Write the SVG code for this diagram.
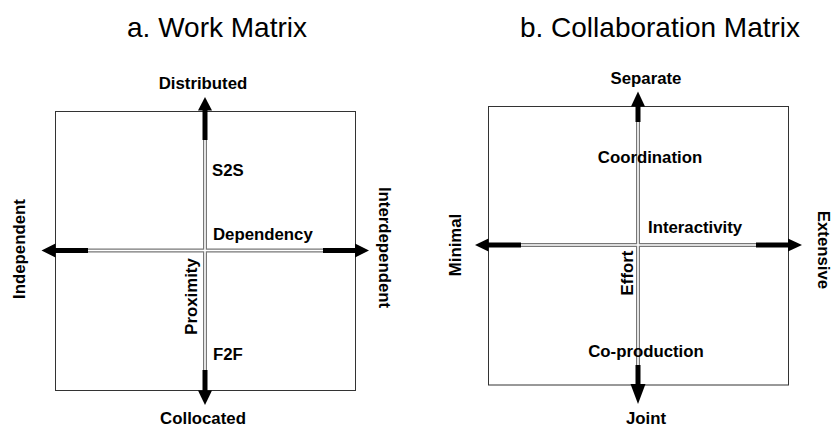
<svg xmlns="http://www.w3.org/2000/svg" width="835" height="427" viewBox="0 0 835 427">
<style>
.title{font-family:"Liberation Sans",Arial,sans-serif;font-size:28px;fill:#000}
.lbl{font-family:"Liberation Sans",Arial,sans-serif;font-size:16.8px;font-weight:bold;fill:#000}
.box{fill:none;stroke:#333;stroke-width:1}
.axo{stroke:#777;stroke-width:4;fill:none}
.axi{stroke:#fff;stroke-width:1.6;fill:none}
.bar{stroke:#000;stroke-width:5;fill:none}
.head{fill:#000}
</style>
<rect width="835" height="427" fill="#fff"/>
<g id="title-a"><text class="title" x="217" y="37" text-anchor="middle">a. Work Matrix</text></g>
<g id="title-b"><text class="title" x="660" y="37" text-anchor="middle">b. Collaboration Matrix</text></g>

<g id="work-matrix-box"><rect class="box" x="55.5" y="111.5" width="300" height="279"/></g>
<g id="collab-matrix-box"><rect class="box" x="488.5" y="106.5" width="300" height="278.5"/></g>

<g id="connectors">
  <line class="axo" x1="205" y1="110" x2="205" y2="391"/>
  <line class="axo" x1="55" y1="250.5" x2="355" y2="250.5"/>
  <line class="axi" x1="205" y1="110" x2="205" y2="391"/>
  <line class="axi" x1="55" y1="250.5" x2="355" y2="250.5"/>
  <line class="bar" x1="205" y1="110" x2="205" y2="140"/>
  <line class="bar" x1="205" y1="370" x2="205" y2="391"/>
  <line class="bar" x1="55" y1="250.5" x2="88" y2="250.5"/>
  <line class="bar" x1="323" y1="250.5" x2="355" y2="250.5"/>
  <polygon class="head" points="205,97 198,110.5 212,110.5"/>
  <polygon class="head" points="198,390.5 212,390.5 205,405"/>
  <polygon class="head" points="41.5,250.5 55.5,243.5 55.5,257.5"/>
  <polygon class="head" points="355,243.5 369,250.5 355,257.5"/>
  <line class="axo" x1="638" y1="106" x2="638" y2="385"/>
  <line class="axo" x1="488" y1="245" x2="788" y2="245"/>
  <line class="axi" x1="638" y1="106" x2="638" y2="385"/>
  <line class="axi" x1="488" y1="245" x2="788" y2="245"/>
  <line class="bar" x1="638" y1="106" x2="638" y2="122"/>
  <line class="bar" x1="638" y1="365" x2="638" y2="385"/>
  <line class="bar" x1="488" y1="245" x2="521" y2="245"/>
  <line class="bar" x1="756" y1="245" x2="788" y2="245"/>
  <polygon class="head" points="638,91.5 631,106.5 645,106.5"/>
  <polygon class="head" points="630.5,384 645.5,384 638,404"/>
  <polygon class="head" points="475,245 488.5,238.5 488.5,251.5"/>
  <polygon class="head" points="788,238.5 802,245 788,251.5"/>
</g>

<g id="node-distributed"><text class="lbl" x="203" y="89" text-anchor="middle">Distributed</text></g>
<g id="node-s2s"><text class="lbl" x="212" y="176">S2S</text></g>
<g id="node-dependency"><text class="lbl" x="213" y="240">Dependency</text></g>
<g id="node-proximity"><text class="lbl" transform="translate(197,296.5) rotate(-90)" text-anchor="middle">Proximity</text></g>
<g id="node-f2f"><text class="lbl" x="213" y="360">F2F</text></g>
<g id="node-collocated"><text class="lbl" x="203" y="424" text-anchor="middle">Collocated</text></g>
<g id="node-independent"><text class="lbl" transform="translate(25,249) rotate(-90)" text-anchor="middle">Independent</text></g>
<g id="node-interdependent"><text class="lbl" transform="translate(378.5,247.5) rotate(90)" text-anchor="middle">Interdependent</text></g>

<g id="node-separate"><text class="lbl" x="646" y="84" text-anchor="middle">Separate</text></g>
<g id="node-coordination"><text class="lbl" x="650" y="163" text-anchor="middle">Coordination</text></g>
<g id="node-interactivity"><text class="lbl" x="648" y="233">Interactivity</text></g>
<g id="node-effort"><text class="lbl" transform="translate(633,273) rotate(-90)" text-anchor="middle">Effort</text></g>
<g id="node-coproduction"><text class="lbl" x="646" y="357" text-anchor="middle">Co-production</text></g>
<g id="node-joint"><text class="lbl" x="646" y="424" text-anchor="middle">Joint</text></g>
<g id="node-minimal"><text class="lbl" transform="translate(461,245) rotate(-90)" text-anchor="middle">Minimal</text></g>
<g id="node-extensive"><text class="lbl" transform="translate(818,250) rotate(90)" text-anchor="middle">Extensive</text></g>
</svg>
